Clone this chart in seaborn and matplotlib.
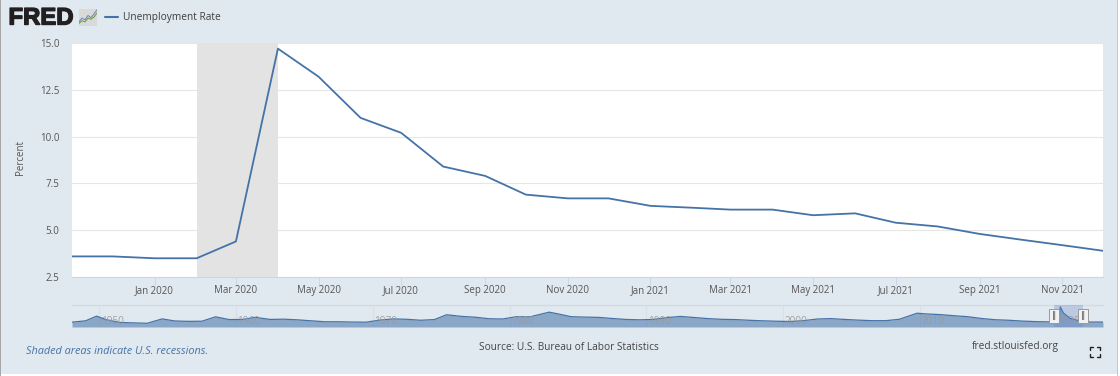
import pandas as pd
import seaborn as sns
import matplotlib.pyplot as plt
import matplotlib.patheffects as pe
from matplotlib.lines import Line2D
from matplotlib.patches import Rectangle

W, H = 1120, 376
BG = '#e1e9f0'
LINE = '#4572a7'

months = ['2019-11-01', '2019-12-01', '2020-01-01', '2020-02-01', '2020-03-01', '2020-04-01',
          '2020-05-01', '2020-06-01', '2020-07-01', '2020-08-01', '2020-09-01', '2020-10-01',
          '2020-11-01', '2020-12-01', '2021-01-01', '2021-02-01', '2021-03-01', '2021-04-01',
          '2021-05-01', '2021-06-01', '2021-07-01', '2021-08-01', '2021-09-01', '2021-10-01',
          '2021-11-01', '2021-12-01']
rate = [3.6, 3.6, 3.5, 3.5, 4.4, 14.7, 13.2, 11.0, 10.2, 8.4, 7.9, 6.9,
        6.7, 6.7, 6.3, 6.2, 6.1, 6.1, 5.8, 5.9, 5.4, 5.2, 4.8, 4.5, 4.2, 3.9]
recession = ['2020-02-01', '2020-04-01']
y_ticks = [2.5, 5.0, 7.5, 10.0, 12.5, 15.0]
x_ticks = ['2020-01-01', '2020-03-01', '2020-05-01', '2020-07-01', '2020-09-01', '2020-11-01',
           '2021-01-01', '2021-03-01', '2021-05-01', '2021-07-01', '2021-09-01', '2021-11-01']
x_labels = ['Jan 2020', 'Mar 2020', 'May 2020', 'Jul 2020', 'Sep 2020', 'Nov 2020',
            'Jan 2021', 'Mar 2021', 'May 2021', 'Jul 2021', 'Sep 2021', 'Nov 2021']

# navigator strip, whole history
nav_years = [1948.0, 1949.0, 1949.8, 1950.5, 1951.5, 1952.5, 1953.5, 1954.6, 1955.5, 1956.5,
             1957.5, 1958.5, 1959.5, 1960.5, 1961.4, 1962.5, 1963.5, 1964.5, 1965.5, 1966.5,
             1967.5, 1968.5, 1969.5, 1970.5, 1971.5, 1972.5, 1973.5, 1974.5, 1975.4, 1976.5,
             1977.5, 1978.5, 1979.5, 1980.5, 1981.5, 1982.9, 1983.5, 1984.5, 1985.5, 1986.5,
             1987.5, 1988.5, 1989.5, 1990.5, 1991.5, 1992.5, 1993.5, 1994.5, 1995.5, 1996.5,
             1997.5, 1998.5, 1999.5, 2000.5, 2001.5, 2002.5, 2003.5, 2004.5, 2005.5, 2006.5,
             2007.5, 2008.5, 2009.8, 2010.5, 2011.5, 2012.5, 2013.5, 2014.5, 2015.5, 2016.5,
             2017.5, 2018.5, 2019.5, 2020.2, 2020.27, 2020.5, 2021.0, 2021.9, 2022.5, 2023.4]
nav_rate = [3.5, 4.5, 7.9, 5.3, 3.3, 3.0, 2.7, 5.9, 4.4, 4.1,
            4.2, 7.4, 5.4, 5.5, 7.0, 5.5, 5.7, 5.2, 4.5, 3.8,
            3.8, 3.6, 3.5, 5.0, 5.9, 5.6, 4.9, 5.4, 8.9, 7.7,
            7.1, 6.0, 5.8, 7.5, 7.4, 10.8, 9.6, 7.5, 7.2, 7.0,
            6.2, 5.5, 5.2, 5.5, 6.8, 7.7, 6.9, 6.1, 5.6, 5.4,
            4.9, 4.5, 4.2, 4.0, 4.6, 5.8, 6.1, 5.5, 5.0, 4.6,
            4.6, 5.6, 10.0, 9.5, 9.0, 8.2, 7.5, 6.2, 5.3, 4.9,
            4.3, 3.9, 3.7, 4.4, 14.7, 10.2, 6.3, 3.9, 3.6, 3.6]
nav_ticks = [1950, 1960, 1970, 1980, 1990, 2000, 2010, 2020]
nav_window = [2019.83, 2021.92]

# little chart icon next to the logo
icon_x = [0, 1, 2, 3, 4, 5, 6]
icon_green = [1.0, 2.0, 1.6, 3.0, 2.6, 3.4, 5.0]
icon_blue = [1.6, 3.0, 2.4, 4.0, 3.2, 4.6, 6.2]

sns.set_theme(style='white')
plt.rcParams['font.family'] = ['Open Sans', 'DejaVu Sans']


def add_ax(fig, x0, y0, x1, y1):
    # pixel box, y measured from the top
    return fig.add_axes([x0 / W, 1 - y1 / H, (x1 - x0) / W, (y1 - y0) / H])


def ftext(fig, x, y, s, **kw):
    return fig.text(x / W, 1 - y / H, s, **kw)


fig = plt.figure(figsize=(W / 100, H / 100), dpi=100, facecolor='white')
fig.add_artist(Rectangle((1 / W, 2 / H), 1116 / W, 1 - 2 / H, transform=fig.transFigure,
                         facecolor=BG, edgecolor='none', zorder=-5))
fig.add_artist(Rectangle((0, 0), 1 / W, 1, transform=fig.transFigure,
                         facecolor='#a8a8a8', edgecolor='none', zorder=-4))
fig.add_artist(Rectangle((1117 / W, 0), 1 / W, 1, transform=fig.transFigure,
                         facecolor='#c4c8cc', edgecolor='none', zorder=-4))

#=====================================================================================================
# Main chart
df = pd.DataFrame({'date': pd.to_datetime(months), 'rate': rate})
ax = add_ax(fig, 72, 43, 1103, 277)
ax.set_facecolor('white')
ax.axvspan(pd.Timestamp(recession[0]), pd.Timestamp(recession[1]), color='#e3e3e3', lw=0, zorder=1)
sns.lineplot(data=df, x='date', y='rate', color=LINE, lw=1.3, ax=ax, zorder=3)
ax.set_xlim(df['date'].iloc[0], df['date'].iloc[-1])
ax.set_ylim(2.5, 15.0)
ax.set_yticks(y_ticks)
ax.set_yticklabels([f'{v:.1f}' for v in y_ticks])
ax.set_xticks(pd.to_datetime(x_ticks))
ax.set_xticklabels(x_labels)
ax.grid(axis='y', color='#e6e6e6', lw=0.8, zorder=0)
ax.set_axisbelow(True)
for name in ['top', 'left', 'right']:
    ax.spines[name].set_visible(False)
ax.spines['bottom'].set_color('#ccd6eb')
ax.spines['bottom'].set_linewidth(0.8)
ax.tick_params(axis='x', length=5.6, width=0.7, color='#ccd6eb', pad=0.5, labelsize=7.0, labelcolor='#555555', bottom=True)
ax.tick_params(axis='y', length=0, pad=9, labelsize=7.0, labelcolor='#555555')
ax.set_xlabel('')
ax.set_ylabel('')
ftext(fig, 20.5, 157, 'Percent', rotation=90, ha='center', va='center', fontsize=7.0, color='#555555')

#=====================================================================================================
# Navigator
nav = pd.DataFrame({'year': nav_years, 'rate': nav_rate})
ax2 = add_ax(fig, 72, 305, 1103, 327)
ax2.patch.set_alpha(0)
ax2.fill_between(nav['year'], 0, nav['rate'], color=LINE, alpha=0.55, lw=0, zorder=2)
sns.lineplot(data=nav, x='year', y='rate', color=LINE, lw=0.9, ax=ax2, zorder=3)
ax2.axvspan(nav_window[0], nav_window[1], color='#6685c2', alpha=0.3, lw=0, zorder=4)
ax2.set_xlim(1948, 2023.4)
ax2.set_ylim(0, 16)
ax2.set_xticks(nav_ticks)
ax2.set_xticklabels([])
ax2.set_yticks([])
ax2.set_xlabel('')
ax2.set_ylabel('')
ax2.grid(axis='x', color='#d8dfe6', lw=0.8, zorder=0)
for name in ['left', 'right', 'bottom']:
    ax2.spines[name].set_visible(False)
ax2.spines['top'].set_color('#d3dae1')
ax2.spines['top'].set_linewidth(1.0)
ax2.tick_params(length=0)
for yr in nav_ticks:
    ax2.annotate(str(yr), (yr, 0), xytext=(1, 2.5), textcoords='offset points', fontsize=7.2,
                 color='#999999', alpha=0.9, zorder=5, annotation_clip=False)
for edge in nav_window:
    ax2.annotate('‖', (edge, 0.5), xycoords=('data', 'axes fraction'), ha='center', va='center',
                 fontsize=6, color='#555555', zorder=7,
                 bbox=dict(boxstyle='square,pad=0.35', fc='#f2f2f2', ec='#999999', lw=0.7))

#=====================================================================================================
# Header and footer
logo = ftext(fig, 8.5, 18, 'FRED', fontsize=17.2, fontweight='bold', color='#231f20', va='center',
             family=['Liberation Sans', 'DejaVu Sans'])
logo.set_path_effects([pe.withStroke(linewidth=1.0, foreground='#231f20')])
icon = add_ax(fig, 79, 9, 97, 26)
icon.set_facecolor('#d8d8d8')
sns.lineplot(x=icon_x, y=icon_green, color='#7a9a4a', lw=0.8, ax=icon)
sns.lineplot(x=icon_x, y=icon_blue, color='#6f8fb5', lw=0.8, ax=icon)
icon.set_xlim(0, 6)
icon.set_ylim(0, 6.5)
icon.axis('off')
icon.add_patch(Rectangle((0, 0), 1, 1, transform=icon.transAxes, fc='#d9d9d9', ec='none', zorder=0, clip_on=False))

fig.add_artist(Line2D([105 / W, 118 / W], [1 - 17 / H, 1 - 17 / H], color=LINE, lw=1.5))
ftext(fig, 123, 17.5, 'Unemployment Rate', fontsize=7.3, color='#3d3d3d', va='center')
ftext(fig, 26.5, 351.5, 'Shaded areas indicate U.S. recessions.', fontsize=7.8, color=LINE,
      style='italic', va='center')
ftext(fig, 569, 347, 'Source: U.S. Bureau of Labor Statistics', fontsize=7.3, color='#444444',
      ha='center', va='center')
ftext(fig, 1015, 347, 'fred.stlouisfed.org', fontsize=7.3, color='#444444', ha='center', va='center')

# fullscreen corners
for cx, dx in [(1090, 1), (1100, -1)]:
    for cy, dy in [(347, 1), (357, -1)]:
        fig.add_artist(Line2D([cx / W, cx / W, (cx + 3 * dx) / W],
                              [1 - (cy + 3 * dy) / H, 1 - cy / H, 1 - cy / H], color='#222222', lw=1.0))

fig.savefig('out.png', dpi=100, facecolor=fig.get_facecolor())
